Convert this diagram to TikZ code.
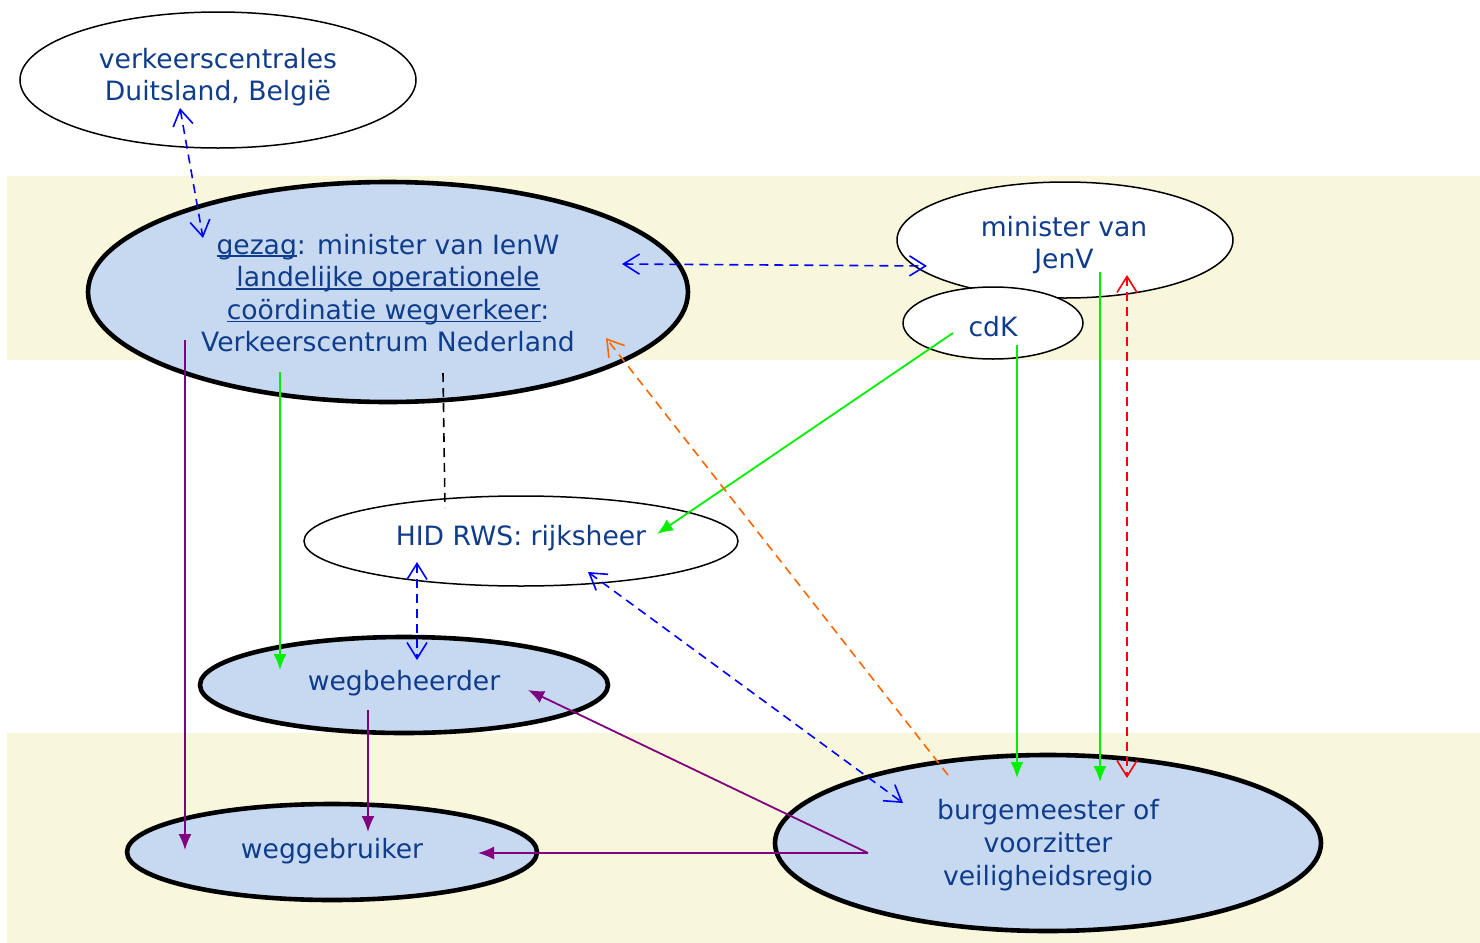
\documentclass[tikz,border=0pt]{standalone}
\usepackage{fontspec}
\setmainfont{DejaVu Sans}
\usetikzlibrary{shapes.geometric,arrows.meta}
\definecolor{band}{HTML}{F8F7DC}
\definecolor{ellfill}{HTML}{C6D9F0}
\definecolor{txt}{HTML}{103C8C}
\definecolor{grn}{HTML}{00F000}
\definecolor{prp}{HTML}{800080}
\definecolor{org}{HTML}{FF6600}
\definecolor{blu}{HTML}{0000FF}
\definecolor{rd}{HTML}{FF0000}
\newcommand\myul[1]{\setbox0\hbox{#1}\rlap{\rule[-1.5pt]{\wd0}{0.8pt}}#1}
\begin{document}
\begin{tikzpicture}[x=0.5pt,y=-0.5pt,
  ell/.style={ellipse, draw=black, line width=0.75pt, fill=white, inner sep=0pt,
    font=\fontsize{13.3}{16.3}\selectfont, text=txt, align=center},
  bigell/.style={ell, line width=2.3pt, fill=ellfill},
  lbl/.style={font=\fontsize{13.3}{16.3}\selectfont, text=txt, align=center, inner sep=0pt},
  solidarr/.style={line width=0.9pt, -{Latex[length=8pt,width=6.5pt]}},
  dasharr/.style={line width=0.8pt, dash pattern=on 4.5pt off 3pt,
    {Straight Barb[length=8pt,width=10pt]}-{Straight Barb[length=8pt,width=10pt]}},
  dashone/.style={line width=0.8pt, dash pattern=on 4.5pt off 3pt,
    -{Straight Barb[length=8pt,width=10pt]}}]
\fill[white] (0,0) rectangle (1480,943);
\useasboundingbox (0,0) rectangle (1480,943);
\fill[band] (7,176) rectangle (1480,360);
\fill[band] (7,733) rectangle (1480,943);

\node[ell, minimum width=198pt, minimum height=68pt] (vc) at (218,80) {};
\node[lbl] (vct) at (218,77) {verkeerscentrales\\Duitsland, België};
\node[bigell, minimum width=300pt, minimum height=110pt] (gezag) at (388,292) {};
\node[lbl] (gezagt) at (388,293)
  {\myul{gezag}: minister van IenW\\\myul{landelijke operationele}\\\myul{coördinatie wegverkeer}:\\Verkeerscentrum Nederland};
\node[ell, minimum width=168pt, minimum height=58pt] (jenv) at (1065,240) {};
\node[lbl] (jenvt) at (1064,245) {minister van\\JenV};
\node[ell, minimum width=90pt, minimum height=36pt] (cdk) at (993,323) {};
\node[lbl] (cdkt) at (993,327) {cdK};
\node[ell, minimum width=217pt, minimum height=45pt] (hid) at (521,541) {};
\node[lbl] (hidt) at (521,538) {HID RWS: rijksheer};
\node[bigell, minimum width=204pt, minimum height=48pt] (wb) at (404,685) {};
\node[lbl] (wbt) at (404,683) {wegbeheerder};
\node[bigell, minimum width=205pt, minimum height=48pt] (wg) at (332,852) {};
\node[lbl] (wgt) at (332,851) {weggebruiker};
\node[bigell, minimum width=273pt, minimum height=88pt] (bg) at (1048,843) {};
\node[lbl, font=\fontsize{13.3}{16.6}\selectfont] (bgt) at (1048,845) {burgemeester of\\voorzitter\\veiligheidsregio};

% named connector ends
\coordinate (vcA) at (180,108);
\coordinate (gzA) at (203,238);
\coordinate (gzB) at (622,264);
\coordinate (jvA) at (927,266);
\coordinate (gzC) at (280,372);
\coordinate (wbA) at (280,670);
\coordinate (gzD) at (185,340);
\coordinate (wgA) at (185,850);
\coordinate (gzE) at (443,373);
\coordinate (hdA) at (445,508);
\coordinate (ckA) at (953,333);
\coordinate (hdB) at (657,534);
\coordinate (bgA) at (948,775);
\coordinate (gzF) at (606,338);
\coordinate (ckB) at (1017,345);
\coordinate (bgB) at (1017,778);
\coordinate (jvB) at (1100,272);
\coordinate (bgC) at (1100,782);
\coordinate (jvC) at (1127,275);
\coordinate (bgD) at (1127,778);
\coordinate (hdC) at (417,562);
\coordinate (wbB) at (417,660);
\coordinate (hdD) at (588,572);
\coordinate (bgE) at (903,803);
\coordinate (wbC) at (368,710);
\coordinate (wgB) at (368,832);
\coordinate (bgF) at (868,853);
\coordinate (wbD) at (528,690);
\coordinate (wgC) at (478,853);

\draw[dasharr, blu] (vcA) -- (gzA);
\draw[dasharr, blu] (gzB) -- (jvA);
\draw[solidarr, grn] (gzC) -- (wbA);
\draw[solidarr, prp] (gzD) -- (wgA);
\draw[line width=0.8pt, dash pattern=on 4.5pt off 3pt, black] (gzE) -- (hdA);
\draw[solidarr, grn] (ckA) -- (hdB);
\draw[dashone, org] (bgA) -- (gzF);
\draw[solidarr, grn] (ckB) -- (bgB);
\draw[solidarr, grn] (jvB) -- (bgC);
\draw[dasharr, rd] (jvC) -- (bgD);
\draw[dasharr, blu] (hdC) -- (wbB);
\draw[dasharr, blu] (hdD) -- (bgE);
\draw[solidarr, prp] (wbC) -- (wgB);
\draw[solidarr, prp] (bgF) -- (wbD);
\draw[solidarr, prp] (bgF) -- (wgC);
\end{tikzpicture}
\end{document}
